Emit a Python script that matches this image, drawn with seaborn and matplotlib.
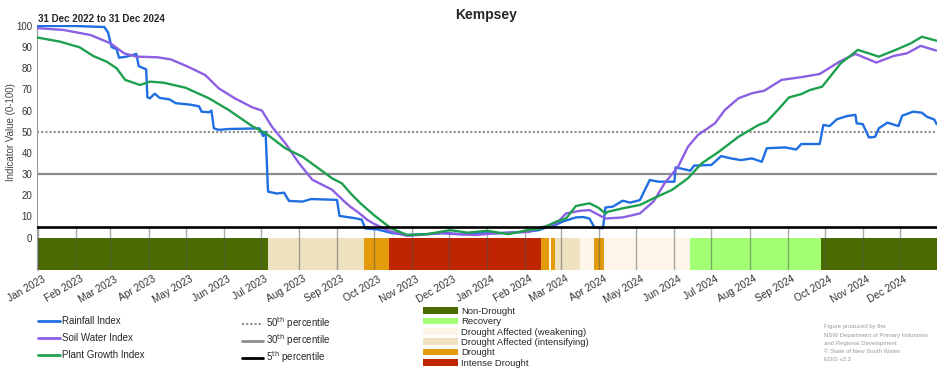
import pandas as pd
import matplotlib
matplotlib.use("Agg")
import matplotlib.pyplot as plt
import matplotlib.dates as mdates
import matplotlib.transforms as mtransforms
from matplotlib.lines import Line2D
from matplotlib.patches import Patch
import seaborn as sns

# Rainfall Index
rain_dates = [
    "2022-12-31", "2023-01-31", "2023-02-24", "2023-02-27", "2023-03-02", "2023-03-06",
    "2023-03-08", "2023-03-14", "2023-03-22", "2023-03-24", "2023-03-30", "2023-03-31",
    "2023-04-02", "2023-04-06", "2023-04-10", "2023-04-18", "2023-04-23", "2023-05-05",
    "2023-05-12", "2023-05-14", "2023-05-20", "2023-05-22", "2023-05-24", "2023-05-28",
    "2023-06-05", "2023-06-30", "2023-07-03", "2023-07-05", "2023-07-07", "2023-07-14",
    "2023-07-20", "2023-07-24", "2023-08-04", "2023-08-11", "2023-09-01", "2023-09-03",
    "2023-09-14", "2023-09-21", "2023-09-24", "2023-10-04", "2023-10-15", "2023-10-28",
    "2023-11-12", "2023-11-27", "2023-12-12", "2023-12-27", "2024-01-08", "2024-02-01",
    "2024-02-12", "2024-02-20", "2024-02-25", "2024-03-02", "2024-03-13", "2024-03-19",
    "2024-03-24", "2024-03-28", "2024-04-04", "2024-04-06", "2024-04-12", "2024-04-20",
    "2024-04-26", "2024-05-04", "2024-05-08", "2024-05-12", "2024-05-19", "2024-06-01",
    "2024-06-02", "2024-06-14", "2024-06-17", "2024-07-01", "2024-07-09", "2024-07-17",
    "2024-07-25", "2024-08-03", "2024-08-11", "2024-08-15", "2024-08-30", "2024-09-08",
    "2024-09-12", "2024-09-27", "2024-09-30", "2024-10-05", "2024-10-11", "2024-10-19",
    "2024-10-26", "2024-10-27", "2024-11-01", "2024-11-06", "2024-11-11", "2024-11-14",
    "2024-11-21", "2024-11-30", "2024-12-03", "2024-12-12", "2024-12-19", "2024-12-23",
    "2024-12-29", "2024-12-31",
]
rain_vals = [
    100, 100, 99.5, 97, 90, 89,
    85, 85.5, 86.8, 81, 79.5, 66.3,
    65.8, 68, 66, 65.3, 63.5, 62.8,
    62, 59.5, 59.2, 60, 51.6, 50.9,
    51.3, 51.6, 48, 50, 21.7, 20.8,
    21.2, 17.3, 17, 18.2, 17.8, 10.2,
    9.3, 8.5, 4.3, 3.8, 2.2, 1.2,
    1.6, 2.2, 1.5, 2.0, 2.0, 2.7,
    3.5, 5.2, 5.8, 7.5, 9.5, 9.7,
    9, 4.8, 4.4, 14.2, 14.6, 17.4,
    16.5, 17.7, 22.5, 27.2, 26.4, 26.4,
    33.2, 31.6, 34, 34.3, 38.5, 37.4,
    36.6, 37.4, 35.8, 42.2, 42.6, 41.6,
    44.2, 44.2, 53.2, 52.7, 55.9, 57.4,
    58, 54, 53.6, 47.3, 47.6, 51.6,
    54.3, 52.7, 57.6, 59.5, 59, 57.1,
    55.8, 53.6,
]

# Soil Water Index
soil_dates = [
    "2022-12-31", "2023-01-22", "2023-02-13", "2023-03-01", "2023-03-12", "2023-03-22",
    "2023-04-08", "2023-04-19", "2023-05-02", "2023-05-17", "2023-05-28", "2023-06-10",
    "2023-06-24", "2023-07-02", "2023-07-10", "2023-07-21", "2023-08-01", "2023-08-12",
    "2023-08-28", "2023-09-07", "2023-09-12", "2023-09-18", "2023-09-26", "2023-10-01",
    "2023-10-09", "2023-10-15", "2023-10-28", "2023-11-24", "2023-12-22", "2024-01-08",
    "2024-02-04", "2024-02-15", "2024-02-26", "2024-03-05", "2024-03-16", "2024-03-24",
    "2024-04-06", "2024-04-20", "2024-05-04", "2024-05-15", "2024-05-24", "2024-06-04",
    "2024-06-12", "2024-06-20", "2024-07-04", "2024-07-12", "2024-07-23", "2024-08-03",
    "2024-08-13", "2024-08-27", "2024-09-12", "2024-09-27", "2024-10-13", "2024-10-26",
    "2024-11-12", "2024-11-26", "2024-12-07", "2024-12-18", "2024-12-31",
]
soil_vals = [
    99, 98.1, 95.7, 91.8, 87.1, 85.5,
    85.2, 84.2, 81, 76.8, 70.5, 65.8,
    61.6, 60, 52.5, 44.6, 35.2, 27.3,
    22.6, 17, 14.5, 12, 8.2, 6.5,
    4.3, 2.8, 0.8, 2, 1.2, 2,
    2.7, 5, 6.5, 11.4, 12.6, 13,
    9, 9.5, 11.4, 17, 25.6, 33.5,
    42.9, 48.4, 54, 60.3, 65.8, 68.2,
    69.4, 74.5, 75.8, 77.3, 83.1, 86.8,
    82.7, 85.8, 87.1, 90.6, 88.3,
]

# Plant Growth Index
plant_dates = [
    "2022-12-31", "2023-01-19", "2023-02-04", "2023-02-15", "2023-02-26", "2023-03-06",
    "2023-03-13", "2023-03-25", "2023-04-02", "2023-04-13", "2023-05-01", "2023-05-20",
    "2023-06-05", "2023-06-24", "2023-07-05", "2023-07-21", "2023-08-04", "2023-08-17",
    "2023-08-28", "2023-09-05", "2023-09-12", "2023-09-20", "2023-10-01", "2023-10-15",
    "2023-10-28", "2023-11-13", "2023-12-02", "2023-12-16", "2024-01-01", "2024-01-18",
    "2024-02-03", "2024-02-14", "2024-02-26", "2024-03-05", "2024-03-13", "2024-03-24",
    "2024-03-31", "2024-04-06", "2024-04-08", "2024-04-20", "2024-05-04", "2024-05-15",
    "2024-05-30", "2024-06-12", "2024-06-23", "2024-07-07", "2024-07-23", "2024-08-08",
    "2024-08-15", "2024-08-24", "2024-09-02", "2024-09-12", "2024-09-19", "2024-09-29",
    "2024-10-14", "2024-10-28", "2024-11-14", "2024-11-29", "2024-12-10", "2024-12-19",
    "2024-12-31",
]
plant_vals = [
    94.6, 92.6, 89.9, 85.8, 83.1, 80,
    74.5, 72.1, 73.7, 73.2, 70.8, 65.8,
    60.3, 52.7, 49.3, 42.2, 38.2, 32.7,
    28, 25.6, 20.9, 16.2, 10.6, 4.3,
    1.2, 1.6, 3.5, 2.3, 3.2, 1.6,
    3.5, 4.3, 7.5, 9, 14.9, 16.2,
    14.2, 11.4, 12.2, 13.8, 15.4, 18.5,
    22.5, 28, 35, 40.5, 47.6, 53.1,
    54.7, 60.3, 66.2, 67.8, 69.7, 71.3,
    82.3, 88.7, 85.5, 89, 91.8, 94.9,
    93,
]

# drought category band
band_edges = [
    "2022-12-31", "2023-07-07", "2023-09-23", "2023-10-13", "2024-02-14", "2024-02-20",
    "2024-02-22", "2024-02-25", "2024-03-16", "2024-03-28", "2024-04-05", "2024-06-14",
    "2024-09-28", "2024-12-31",
]
band_cats = [
    "Non-Drought", "Drought Affected (intensifying)", "Drought", "Intense Drought", "Drought",
    "Drought Affected (weakening)", "Drought", "Drought Affected (intensifying)",
    "Drought Affected (weakening)", "Drought", "Drought Affected (weakening)", "Recovery",
    "Non-Drought",
]

cat_names = ["Non-Drought", "Recovery", "Drought Affected (weakening)",
             "Drought Affected (intensifying)", "Drought", "Intense Drought"]
cat_colors = ["#4a6b00", "#a3ff73", "#fdf5e8", "#eee2c0", "#e39b0c", "#be2500"]

series_names = ["Rainfall Index", "Soil Water Index", "Plant Growth Index"]
series_colors = ["#1f6fe3", "#8c5fe3", "#1ea04f"]

pct_labels = ["50$^{\\mathrm{th}}$ percentile", "30$^{\\mathrm{th}}$ percentile", "5$^{\\mathrm{th}}$ percentile"]

credit = ("Figure produced by the\nNSW Department of Primary Industries\n"
          "and Regional Development\n\u00a9 State of New South Wales\nEDIS v2.2")

sns.set_style("white")
plt.rcParams["font.family"] = ["Liberation Sans", "DejaVu Sans"]

df = pd.concat([
    pd.DataFrame({"date": pd.to_datetime(rain_dates), "value": rain_vals, "Index": series_names[0]}),
    pd.DataFrame({"date": pd.to_datetime(soil_dates), "value": soil_vals, "Index": series_names[1]}),
    pd.DataFrame({"date": pd.to_datetime(plant_dates), "value": plant_vals, "Index": series_names[2]}),
])

fig = plt.figure(figsize=(9.52, 3.70), dpi=100)
ax = fig.add_axes([0.0384, 0.2705, 0.9455, 0.6622])

y_bot, y_top = -15.3, 100.5
x0, x1 = pd.Timestamp(band_edges[0]), pd.Timestamp(band_edges[-1])

# category band
cat_color = dict(zip(cat_names, cat_colors))
edges = pd.to_datetime(band_edges)
for i, cat in enumerate(band_cats):
    ax.fill_between([edges[i], edges[i + 1]], y_bot, 0, color=cat_color[cat], linewidth=0, zorder=1)

# month marks
months = pd.date_range("2023-01-01", "2024-12-01", freq="MS")
ax.vlines(months, y_bot, 5, color="#555555", alpha=0.5, linewidth=1, zorder=2)

# percentile lines
ax.axhline(50, color="#8c8c8c", linestyle=(0, (1, 1)), linewidth=1.5, zorder=2)
ax.axhline(30, color="#8c8c8c", linewidth=1.6, zorder=2)
ax.axhline(5, color="black", linewidth=1.9, zorder=4)

sns.lineplot(data=df, x="date", y="value", hue="Index", hue_order=series_names,
             palette=series_colors, linewidth=1.7, errorbar=None, legend=False,
             ax=ax, zorder=3)

ax.set_xlim(x0, x1)
ax.set_ylim(y_bot, y_top)
ax.set_yticks(range(0, 101, 10))
ax.set_yticks([-7.65], minor=True)
ax.tick_params(axis="y", which="both", direction="in", length=6, width=1, color="#9a9a9a",
               pad=3, labelsize=7, labelcolor="#333333")
ax.xaxis.set_major_locator(mdates.MonthLocator())
ax.xaxis.set_major_formatter(mdates.DateFormatter("%b %Y"))
ax.tick_params(axis="x", length=0, pad=3, labelsize=7.3, labelcolor="#333333")
offset = mtransforms.ScaledTranslation(4 / 100, 0, fig.dpi_scale_trans)
for lab in ax.get_xticklabels():
    lab.set_rotation(30)
    lab.set_ha("right")
    lab.set_rotation_mode("anchor")
    lab.set_transform(lab.get_transform() + offset)

for s in ["top", "right", "bottom"]:
    ax.spines[s].set_visible(False)
ax.spines["left"].set_color("#9a9a9a")
ax.spines["left"].set_linewidth(0.8)

ax.set_xlabel("")
ax.set_ylabel("Indicator Value (0-100)", fontsize=7, color="#444444")
ax.yaxis.set_label_coords(-0.023, 0.563)

fig.text(0.511, 0.959, "Kempsey", ha="center", va="center", fontsize=10, fontweight="bold")
fig.text(0.0396, 0.950, "31 Dec 2022 to 31 Dec 2024", ha="left", va="center",
         fontsize=7, fontweight="bold")

# legends
line_handles = [Line2D([], [], color=c, linewidth=2) for c in series_colors]
fig.legend(line_handles, series_names, loc="upper left", bbox_to_anchor=(0.0396, 0.146),
           frameon=False, fontsize=7, handlelength=2.3, handletextpad=0.25,
           labelspacing=0.72, borderpad=0, borderaxespad=0)

pct_handles = [Line2D([], [], color="#8c8c8c", linewidth=1.5, linestyle=(0, (1, 1))),
               Line2D([], [], color="#8c8c8c", linewidth=2),
               Line2D([], [], color="black", linewidth=2)]
fig.legend(pct_handles, pct_labels, loc="upper left", bbox_to_anchor=(0.254, 0.148),
           frameon=False, fontsize=7, handlelength=2.2, handletextpad=0.25,
           labelspacing=0.12, borderpad=0, borderaxespad=0)

cat_handles = [Patch(facecolor=c, edgecolor="none") for c in cat_colors]
fig.legend(cat_handles, cat_names, loc="upper left", bbox_to_anchor=(0.444, 0.170),
           frameon=False, fontsize=6.8, handlelength=3.7, handleheight=0.72,
           handletextpad=0.4, labelspacing=0.14, borderpad=0, borderaxespad=0)

fig.text(0.866, 0.123, credit, ha="left", va="top", fontsize=4.3, color="#9a9a9a",
         linespacing=1.78)

fig.savefig("out.png", dpi=100)
